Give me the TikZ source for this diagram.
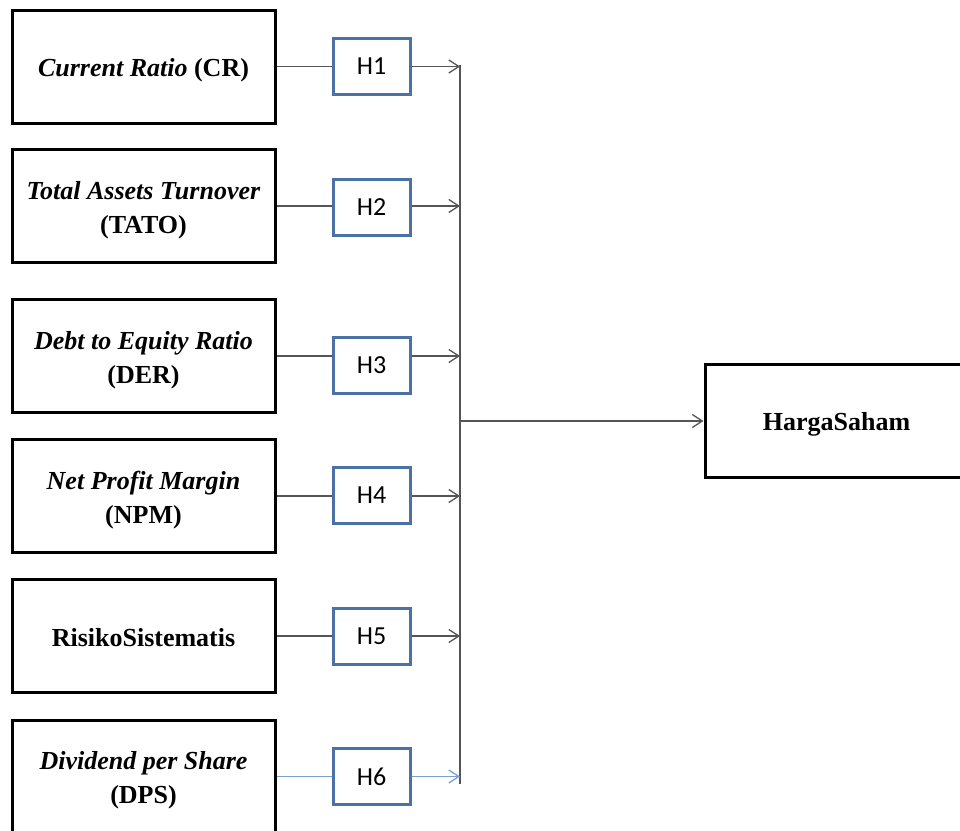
\documentclass[tikz,border=0pt]{standalone}
\usepackage{fontspec}
\setmainfont{Liberation Serif}
\newfontfamily\hfont{Carlito}
\usetikzlibrary{arrows.meta}
\definecolor{hblue}{RGB}{74,114,166}
\definecolor{lgray}{RGB}{85,85,85}
\definecolor{lblue}{RGB}{122,160,210}
\begin{document}
\begin{tikzpicture}[x=1pt,y=-1pt,
  varbox/.style={draw=black,line width=3pt,minimum width=263pt,minimum height=113pt,inner sep=0pt},
  vartext/.style={inner sep=0pt,align=center,font=\fontsize{26}{34}\selectfont\bfseries},
  hbox/.style={draw=hblue,line width=3pt,fill=white,minimum width=77pt,minimum height=56pt,
    inner sep=0pt,font=\hfont\fontsize{26}{30}\selectfont},
  conn/.style={draw=lgray,line width=1.3pt},
  tip/.style={-{Straight Barb[length=10pt,width=13pt,line width=1.3pt]}}
  ]
\useasboundingbox (0,0) rectangle (960,830);
% left variable boxes
\node[varbox] (b1) at (143.5,66.5) {};
\node[varbox] (b2) at (143.5,206) {};
\node[varbox] (b3) at (143.5,356) {};
\node[varbox] (b4) at (143.5,496) {};
\node[varbox] (b5) at (143.5,636) {};
\node[varbox] (b6) at (143.5,776.5) {};
\node[vartext] (t1) at ([yshift=-4pt]b1.center) {\textit{Current Ratio} (CR)};
\node[vartext] (t2) at ([yshift=-4pt]b2.center) {\textit{Total Assets Turnover}\\(TATO)};
\node[vartext] (t3) at ([yshift=-4pt]b3.center) {\textit{Debt to Equity Ratio}\\(DER)};
\node[vartext] (t4) at ([yshift=-4pt]b4.center) {\textit{Net Profit Margin}\\(NPM)};
\node[vartext] (t5) at ([yshift=-2pt]b5.center) {RisikoSistematis};
\node[vartext] (t6) at ([yshift=-4pt]b6.center) {\textit{Dividend per Share}\\(DPS)};
% target
\node[varbox] (hs) at (836.5,421) {};
\node[vartext] (ths) at ([yshift=-3pt]hs.center) {HargaSaham};
% bus
\coordinate (bustop) at (460,65);
\coordinate (busbot) at (460,784);
\coordinate (busmid) at (460,421);
\draw[conn] (bustop) -- (busbot);
\draw[conn,tip] (busmid) -- (hs.west);
% hypothesis boxes
\node[hbox] (h1) at (371.5,66.5) {H1};
\node[hbox] (h2) at (371.5,207) {H2};
\node[hbox] (h3) at (371.5,365) {H3};
\node[hbox] (h4) at (371.5,495.5) {H4};
\node[hbox] (h5) at (371.5,636) {H5};
\node[hbox] (h6) at (371.5,776.5) {H6};
% connectors
\foreach \i in {1,2,3,4,5}{
  \draw[conn] (b\i.east) -- (b\i.east -| h\i.west);
  \draw[conn,tip] (b\i.east -| h\i.east) -- (b\i.east -| bustop);
}
\draw[conn,draw=lblue] (b6.east) -- (b6.east -| h6.west);
\draw[conn,draw=lblue,tip] (b6.east -| h6.east) -- (b6.east -| bustop);
\end{tikzpicture}
\end{document}
